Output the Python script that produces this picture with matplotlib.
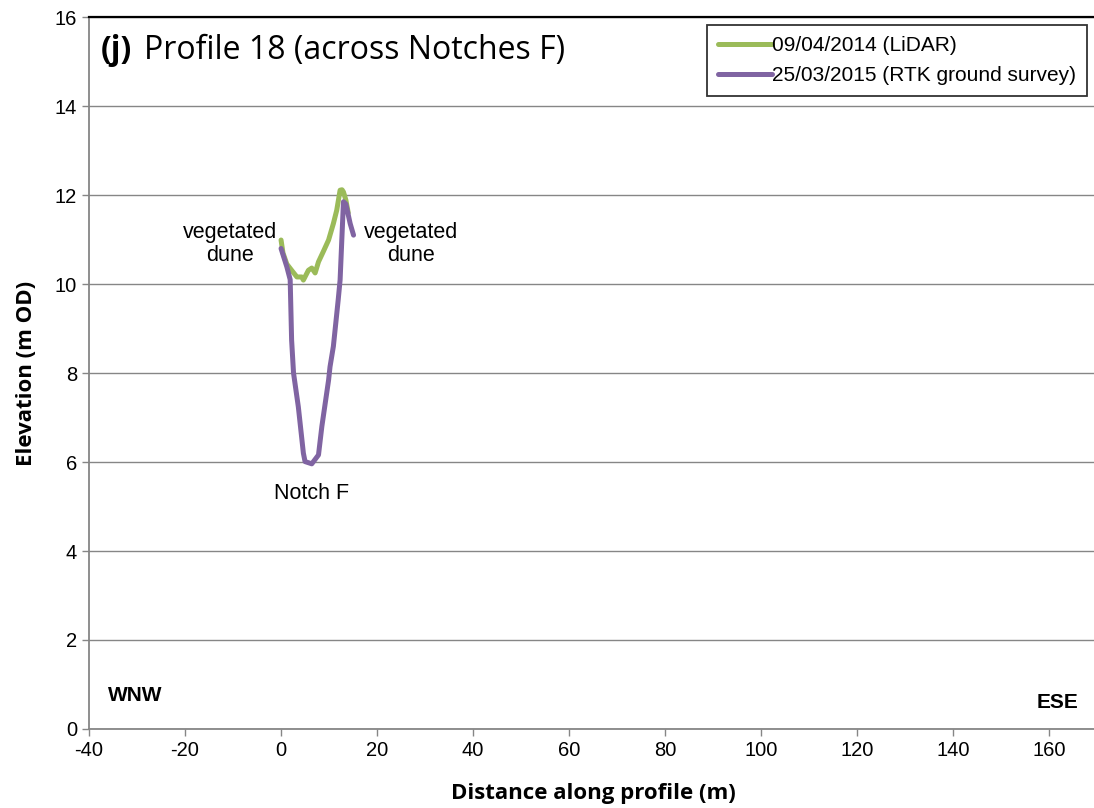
import matplotlib.pyplot as plt

# profile data
lidar_x = [0, 0.4, 1.2, 2.2, 3.3, 4.3, 4.65, 5.7, 6.4, 7.1, 7.8, 8.8, 9.9, 10.9, 11.6, 12.3, 12.7, 13.0, 13.5, 14.0]
lidar_y = [10.99, 10.7, 10.45, 10.31, 10.16, 10.16, 10.09, 10.31, 10.36, 10.25, 10.5, 10.73, 10.99, 11.36, 11.66, 12.11, 12.12, 12.07, 11.89, 11.6]

rtk_x = [0, 1.2, 1.9, 2.2, 2.6, 3.6, 4.65, 5.0, 6.4, 7.8, 8.5, 9.9, 10.2, 10.9, 11.9, 12.3, 12.7, 13.0, 13.5, 14.4, 15.1]
rtk_y = [10.8, 10.39, 10.1, 8.74, 8.0, 7.24, 6.2, 6.01, 5.96, 6.16, 6.8, 7.84, 8.14, 8.6, 9.64, 10.09, 11.1, 11.85, 11.8, 11.36, 11.1]

green = '#9BBB59'
purple = '#8064A2'
grey = '#868686'

plt.rcParams['font.family'] = ['Liberation Sans', 'DejaVu Sans']
plt.rcParams['axes.unicode_minus'] = False

fig = plt.figure(figsize=(10.94, 8.08), dpi=100)
ax = fig.add_axes([0.0814, 0.0978, 0.9214, 0.881])

ax.plot(lidar_x, lidar_y, color=green, lw=3.6, solid_capstyle='round', label='09/04/2014 (LiDAR)')
ax.plot(rtk_x, rtk_y, color=purple, lw=3.6, solid_capstyle='round', label='25/03/2015 (RTK ground survey)')

ax.set_xlim(-40, 170)
ax.set_ylim(0, 16)
ax.set_xticks(range(-40, 161, 20))
ax.set_yticks(range(0, 17, 2))
ax.tick_params(labelsize=14.5, color=grey, length=5, width=1)
ax.yaxis.grid(True, color=grey, lw=1)
ax.set_axisbelow(True)
for s in ['left', 'bottom']:
    ax.spines[s].set_color(grey)
    ax.spines[s].set_linewidth(1.3)
ax.spines['right'].set_visible(False)
ax.spines['top'].set_color('black')
ax.spines['top'].set_linewidth(1.6)

ax.set_xlabel('Distance along profile (m)', fontsize=16, fontweight='bold',
              family=['Open Sans', 'DejaVu Sans'], labelpad=17)
ax.set_ylabel('Elevation (m OD)', fontsize=16, fontweight='bold',
              family=['Open Sans', 'DejaVu Sans'], labelpad=13)

ax.text(-37.5, 15.25, '(j)', fontsize=23, fontweight='bold', family=['Open Sans', 'DejaVu Sans'], va='center')
ax.text(-28.5, 15.25, 'Profile 18 (across Notches F)', fontsize=23, family=['Open Sans', 'DejaVu Sans'], va='center')

ax.text(-10.6, 10.9, 'vegetated\ndune', fontsize=15.5, ha='center', va='center', linespacing=1.15)
ax.text(27.1, 10.9, 'vegetated\ndune', fontsize=15.5, ha='center', va='center', linespacing=1.15)
ax.text(6.3, 5.3, 'Notch F', fontsize=15.5, ha='center', va='center')
ax.text(-36, 0.75, 'WNW', fontsize=15, fontweight='bold', va='center')
ax.text(157.5, 0.6, 'ESE', fontsize=15, fontweight='bold', va='center')

leg = ax.legend(loc='upper right', bbox_to_anchor=(0.990, 0.989), fontsize=15, frameon=True,
                fancybox=False, edgecolor='black', handlelength=2.55, handletextpad=0.0,
                borderpad=0.55, labelspacing=0.5, borderaxespad=0.0)
leg.get_frame().set_linewidth(1.3)
for line in leg.get_lines():
    line.set_linewidth(3.6)

plt.savefig('out.png', dpi=100)
